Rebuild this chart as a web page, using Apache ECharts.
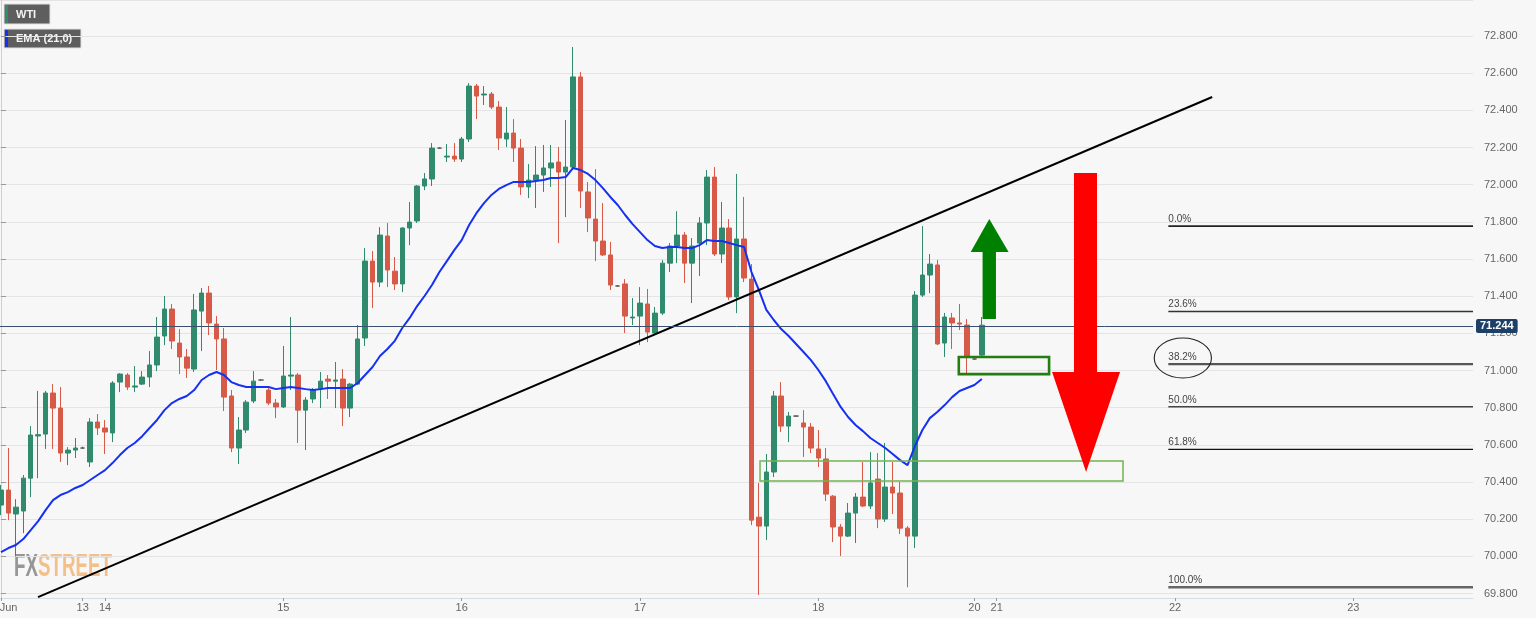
<!DOCTYPE html>
<html><head><meta charset="utf-8">
<script src="https://cdn.jsdelivr.net/npm/echarts@6/dist/echarts.min.js"></script>
<style>html,body{margin:0;padding:0;background:#f7f7f7}#c{width:1536px;height:618px}</style>
</head><body><div id="c"></div>
<script>
// ---- data (hourly WTI candles, index = hour slot) ----
const opens = [70.276,70.357,70.228,70.244,70.421,70.648,70.658,70.879,70.798,70.556,
70.572,70.583,70.508,70.723,70.691,70.664,70.938,70.976,70.911,70.927,
70.965,71.030,71.186,71.331,71.148,71.073,71.008,71.320,71.417,71.250,
71.170,70.863,70.583,70.680,70.836,70.949,70.895,70.825,70.804,70.970,
70.976,70.787,70.847,70.900,70.954,70.943,70.954,70.798,70.927,71.175,
71.589,71.476,71.724,71.535,71.466,71.767,71.805,71.993,72.031,72.197,
72.149,72.154,72.138,72.246,72.531,72.483,72.488,72.418,72.246,72.278,
72.197,71.988,72.025,72.052,72.090,72.122,72.068,72.095,72.580,71.961,
71.815,71.697,71.622,71.455,71.466,71.283,71.293,71.358,71.202,71.309,
71.578,71.670,71.729,71.578,71.686,71.794,72.041,71.627,71.767,71.396,
71.708,71.492,70.211,70.163,70.454,70.863,70.701,70.755,70.718,70.696,
70.578,70.524,70.324,70.158,70.109,70.233,70.319,70.271,70.416,70.201,
70.373,70.341,70.152,70.109,71.406,71.514,71.568,71.148,71.283,71.256,
71.245,71.062,71.083];
const highs = [70.384,70.583,70.308,70.438,70.701,70.890,70.890,70.927,70.911,70.588,
70.637,70.590,70.744,70.766,70.734,70.943,70.986,70.986,71.024,70.997,
71.105,71.288,71.401,71.358,71.223,71.116,71.412,71.444,71.455,71.293,
71.229,70.895,70.750,70.841,70.997,70.952,70.911,70.847,71.132,71.288,
70.986,70.857,70.906,70.992,70.976,71.046,71.008,70.933,71.245,71.659,
71.643,71.772,71.794,71.611,71.772,71.907,71.998,72.063,72.224,72.200,
72.219,72.224,72.257,72.547,72.542,72.531,72.499,72.450,72.418,72.353,
72.246,72.111,72.208,72.214,72.214,72.203,72.348,72.741,72.606,72.015,
72.084,71.901,71.692,71.458,71.492,71.390,71.449,71.439,71.342,71.595,
71.686,71.858,71.745,71.713,71.826,72.079,72.095,71.907,71.815,72.058,
71.934,71.573,70.395,70.551,70.890,70.938,70.777,70.758,70.787,70.718,
70.680,70.583,70.330,70.174,70.287,70.341,70.508,70.561,70.556,70.610,
70.508,70.400,70.163,71.428,71.777,71.627,71.595,71.310,71.310,71.358,
71.277,71.065,71.288];
const lows = [70.222,70.195,70.000,70.125,70.319,70.421,70.578,70.578,70.508,70.491,
70.529,70.580,70.481,70.653,70.551,70.615,70.884,70.895,70.884,70.922,
70.911,70.997,71.137,71.116,70.981,70.960,70.992,71.105,71.191,71.003,
70.782,70.561,70.497,70.664,70.825,70.946,70.814,70.744,70.798,70.895,
70.610,70.572,70.825,70.798,70.847,70.798,70.701,70.750,70.922,71.132,
71.336,71.449,71.449,71.433,71.422,71.675,71.794,71.971,71.993,72.194,
72.122,72.122,72.122,72.230,72.353,72.429,72.407,72.187,72.203,72.122,
71.945,71.928,71.875,71.961,71.988,71.686,71.826,72.079,71.875,71.745,
71.589,71.616,71.433,71.452,71.202,71.245,71.137,71.153,71.191,71.299,
71.530,71.578,71.471,71.363,71.509,71.675,71.616,71.578,71.379,71.309,
71.476,70.168,69.792,70.088,70.427,70.669,70.615,70.752,70.535,70.556,
70.481,70.298,70.077,70.002,70.104,70.072,70.265,70.255,70.152,70.185,
70.228,70.120,69.834,70.045,71.396,71.417,71.137,71.073,71.116,71.218,
70.986,71.059,71.078];
const closes = [70.357,70.233,70.265,70.421,70.653,70.655,70.879,70.798,70.556,70.572,
70.583,70.583,70.723,70.691,70.669,70.933,70.981,70.911,70.917,70.965,
71.030,71.180,71.331,71.159,71.073,71.013,71.326,71.417,71.256,71.170,
70.857,70.583,70.680,70.830,70.943,70.949,70.825,70.804,70.970,70.976,
70.787,70.841,70.895,70.943,70.943,70.949,70.798,70.927,71.170,71.589,
71.476,71.729,71.541,71.466,71.767,71.799,71.993,72.031,72.197,72.197,
72.154,72.138,72.246,72.531,72.477,72.488,72.418,72.251,72.278,72.197,
71.988,72.025,72.052,72.090,72.117,72.068,72.095,72.580,71.966,71.821,
71.697,71.622,71.460,71.455,71.293,71.288,71.363,71.207,71.309,71.578,
71.670,71.729,71.578,71.670,71.794,72.041,71.627,71.767,71.396,71.708,
71.498,70.195,70.163,70.454,70.863,70.701,70.755,70.755,70.696,70.583,
70.529,70.335,70.158,70.109,70.233,70.319,70.271,70.395,70.201,70.373,
70.341,70.152,70.109,71.406,71.514,71.573,71.143,71.288,71.256,71.250,
71.073,71.062,71.244];
const ema21 = [70.023,70.045,70.061,70.093,70.141,70.190,70.249,70.303,70.330,70.346,
70.368,70.384,70.411,70.438,70.464,70.502,70.545,70.583,70.610,70.647,
70.691,70.734,70.787,70.825,70.847,70.863,70.895,70.949,70.976,70.992,
70.976,70.938,70.922,70.911,70.911,70.911,70.911,70.900,70.906,70.911,
70.906,70.900,70.895,70.900,70.906,70.906,70.906,70.906,70.933,70.976,
71.019,71.078,71.116,71.160,71.229,71.283,71.347,71.401,71.460,71.530,
71.589,71.648,71.702,71.783,71.848,71.901,71.945,71.977,71.998,72.015,
72.015,72.015,72.020,72.025,72.036,72.036,72.041,72.090,72.079,72.058,
72.025,71.982,71.934,71.891,71.837,71.788,71.745,71.702,71.670,71.659,
71.665,71.665,71.659,71.659,71.675,71.702,71.697,71.697,71.686,71.675,
71.665,71.530,71.433,71.326,71.272,71.223,71.186,71.143,71.100,71.056,
71.003,70.943,70.873,70.804,70.750,70.707,70.674,70.637,70.610,70.583,
70.551,70.518,70.491,70.594,70.680,70.744,70.777,70.814,70.857,70.890,
70.906,70.922,70.954];
const dayTickIndex = [0, 11, 14, 38, 62, 86, 110, 131, 134, 158, 182];
const dayTickLabels = ['Jun','13','14','15','16','17','18','20','21','22','23'];
const lastPrice = 71.244;
const fibLevels = [71.777, 71.318, 71.035, 70.805, 70.576, 69.834];
const fibLabels = ['0.0%','23.6%','38.2%','50.0%','61.8%','100.0%'];
const fibStartIndex = 157.1;
const trendline = [[4.98, 69.781], [163.0, 72.472]];
// [x0, yTop, x1, yBottom]
const zoneBoxes = [[102.15, 70.513, 151.0, 70.405], [128.9, 71.073, 141.05, 70.981]];
// [shaftX0, shaftX1, shaftBaseY, headBaseY, headX0, headX1, tipX, tipY]
const arrows = [[132.1, 133.9, 71.277, 71.638, 130.5, 135.6, 133.0, 71.815],
                [144.4, 147.5, 72.063, 70.992, 141.45, 150.6, 146.03, 70.454]];
// [x0, yTop, x1, yBottom]
const fibEllipse = [[155.2, 71.175, 162.9, 70.960]];

// ---- chart ----
const chart = echarts.init(document.getElementById('c'));
const candleData = opens.map((o, i) => [i, o, closes[i], lows[i], highs[i]]);
const emaData = ema21.map((v, i) => [i, v]);
const GREEN = '#2f8a6e', RED = '#d65a47';
const fibColors = ['#222', '#333', '#555', '#444', '#111', '#666'];
const fibWidths = [1.6, 1.6, 2.2, 1.6, 1.3, 2.6];
const FONT = '"Liberation Sans", Arial, sans-serif';

const mc = document.createElement('canvas').getContext('2d');
mc.font = 'bold 32px ' + FONT;
const wmScale = 98 / mc.measureText('FXSTREET').width;

const option = {
  backgroundColor: '#f7f7f7',
  animation: false,
  grid: { left: 0, right: 63, top: 0, bottom: 20, containLabel: false, outerBoundsMode: 'none' },
  xAxis: {
    type: 'value', min: -0.135, max: 198.1,
    axisLine: { show: true, lineStyle: { color: '#d6dce8', width: 1 } },
    axisTick: { show: true, customValues: dayTickIndex, length: 3, lineStyle: { color: '#999' } },
    axisLabel: {
      customValues: dayTickIndex, color: '#666', fontSize: 11, margin: 4,
      fontFamily: '"Liberation Sans Narrow", ' + FONT,
      formatter: v => { const k = dayTickIndex.indexOf(v); if (k < 0) return ''; return k === 0 ? '{a|' + dayTickLabels[k] + '}' : dayTickLabels[k]; },
      rich: { a: { padding: [0, 0, 0, 15], color: '#666', fontSize: 11, fontFamily: '"Liberation Sans Narrow", ' + FONT } }
    },
    splitLine: { show: false }
  },
  yAxis: {
    type: 'value', position: 'right', min: 69.776, max: 72.994, splitNumber: 16,
    axisLine: { show: true, lineStyle: { color: '#c9d1df' } },
    axisTick: { show: true, length: 5, lineStyle: { color: '#999' } },
    axisLabel: {
      color: '#666', fontSize: 11, margin: 11, showMinLabel: false, showMaxLabel: false,
      fontFamily: FONT,
      formatter: v => Math.abs(v * 5 - Math.round(v * 5)) < 1e-6 ? v.toFixed(3) : ''
    },
    splitLine: { show: true, lineStyle: { color: '#e4e4e4', width: 1 } }
  },
  series: [
    {
      type: 'candlestick', data: candleData, encode: { x: 0, y: [1, 2, 3, 4] },
      barWidth: 5,
      itemStyle: { color: GREEN, color0: RED, borderColor: GREEN, borderColor0: RED, borderColorDoji: '#555', borderWidth: 1 },
      markLine: {
        silent: true, symbol: 'none', animation: false,
        data: [{ yAxis: lastPrice }],
        lineStyle: { color: '#3a506e', width: 1, type: 'solid' },
        label: { position: 'end', distance: 3, formatter: () => lastPrice.toFixed(3), color: '#fff', fontWeight: 'bold', fontSize: 11,
          backgroundColor: '#1e3f68', padding: [2, 4, 1, 4], borderRadius: 2, fontFamily: FONT }
      },
      z: 2
    },
    {
      type: 'line', data: emaData, showSymbol: false, symbol: 'none', silent: true,
      lineStyle: { color: '#1530f2', width: 2 }, z: 3
    },
    {
      type: 'line', data: trendline, showSymbol: false, symbol: 'none', silent: true,
      lineStyle: { color: '#000', width: 2 }, z: 4
    },
    {
      type: 'custom', data: zoneBoxes, silent: true, z: 5,
      renderItem: (params, api) => {
        const p1 = api.coord([api.value(0), api.value(1)]);
        const p2 = api.coord([api.value(2), api.value(3)]);
        const big = params.dataIndex === 0;
        return { type: 'rect', shape: { x: p1[0], y: p1[1], width: p2[0] - p1[0], height: p2[1] - p1[1] },
          style: { fill: 'none', stroke: big ? '#72b552' : '#237d10', lineWidth: big ? 1.5 : 2.6 } };
      }
    },
    {
      type: 'custom', data: fibLevels.map(v => [fibStartIndex, v]), silent: true, z: 5,
      renderItem: (params, api) => {
        const p = api.coord([api.value(0), api.value(1)]);
        const right = params.coordSys.x + params.coordSys.width;
        const i = params.dataIndex;
        return { type: 'group', children: [
          { type: 'line', shape: { x1: p[0], y1: p[1], x2: right, y2: p[1] }, style: { stroke: fibColors[i], lineWidth: fibWidths[i] } },
          { type: 'text', x: p[0], y: p[1] - 2, style: { text: fibLabels[i], fill: '#444', fontSize: 10, fontFamily: FONT, align: 'left', verticalAlign: 'bottom' } }
        ] };
      }
    },
    {
      type: 'custom', data: arrows, silent: true, z: 6,
      renderItem: (params, api) => {
        const v = k => api.value(k);
        const pts = [[v(0), v(2)], [v(0), v(3)], [v(4), v(3)], [v(6), v(7)], [v(5), v(3)], [v(1), v(3)], [v(1), v(2)]].map(p => api.coord(p));
        return { type: 'polygon', shape: { points: pts }, style: { fill: params.dataIndex === 0 ? '#008000' : '#ff0000' } };
      }
    },
    {
      type: 'custom', data: fibEllipse, silent: true, z: 6,
      renderItem: (params, api) => {
        const p1 = api.coord([api.value(0), api.value(1)]);
        const p2 = api.coord([api.value(2), api.value(3)]);
        return { type: 'ellipse', shape: { cx: (p1[0] + p2[0]) / 2, cy: (p1[1] + p2[1]) / 2, rx: (p2[0] - p1[0]) / 2, ry: (p2[1] - p1[1]) / 2 },
          style: { fill: 'none', stroke: '#222', lineWidth: 1.1 } };
      }
    }
  ],
  graphic: [
    { type: 'group', x: 4, y: 4, z: 100, children: [
      { type: 'rect', shape: { x: 0, y: 0, width: 46, height: 20 }, style: { fill: '#5e5e5e', stroke: '#e2e2e2', lineWidth: 1 } },
      { type: 'rect', shape: { x: 1, y: 1, width: 3, height: 18 }, style: { fill: '#2f8a6e' } },
      { type: 'text', x: 12, y: 10.5, style: { text: 'WTI', fill: '#f4f4f4', fontSize: 11, fontWeight: 'bold', fontFamily: FONT, verticalAlign: 'middle' } }
    ] },
    { type: 'group', x: 4, y: 29, z: 100, children: [
      { type: 'rect', shape: { x: 0, y: 0, width: 77, height: 19 }, style: { fill: '#5e5e5e', stroke: '#e2e2e2', lineWidth: 1 } },
      { type: 'rect', shape: { x: 1, y: 1, width: 3, height: 17 }, style: { fill: '#1530f2' } },
      { type: 'text', x: 12, y: 10, style: { text: 'EMA (21,0)', fill: '#f4f4f4', fontSize: 11, fontWeight: 'bold', fontFamily: FONT, verticalAlign: 'middle' } }
    ] },
    { type: 'text', x: 14, y: 567, z: 0, scaleX: wmScale, style: {
      text: '{fx|FX}{st|STREET}', verticalAlign: 'middle', font: 'bold 32px ' + FONT,
      rich: { fx: { fill: 'rgba(125,125,125,0.8)', font: 'bold 32px ' + FONT },
              st: { fill: 'rgba(242,176,108,0.8)', font: 'bold 32px ' + FONT } } } }
  ]
};
chart.setOption(option);
</script>
</body></html>
